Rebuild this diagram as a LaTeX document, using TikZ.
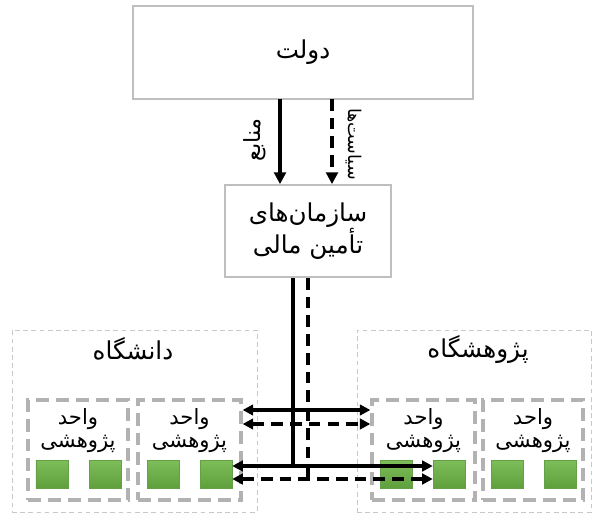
\documentclass[tikz,border=0pt]{standalone}
\usepackage{fontspec}
\newfontfamily\fa[Script=Arabic]{DejaVu Sans}
\TeXXeTstate=1
\definecolor{boxgray}{RGB}{191, 191, 191}
\definecolor{grpgray}{RGB}{200, 200, 200}
\definecolor{unitgray}{RGB}{178, 178, 178}
\definecolor{green1}{RGB}{125, 190, 90}
\definecolor{green2}{RGB}{95, 160, 60}
\definecolor{greenline}{RGB}{100, 160, 70}
\usetikzlibrary{arrows.meta, positioning, calc}

\begin{document}
\begin{tikzpicture}[
  x=0.03cm, y=-0.03cm,
  box/.style={draw=boxgray, line width=1.5pt, fill=white, align=center, font=\fa\fontsize{21}{25}\selectfont, inner sep=0pt},
  group/.style={draw=grpgray, dash pattern=on 4pt off 3pt, line width=0.8pt, inner sep=0pt},
  unit/.style={draw=unitgray, line width=2.8pt, dash pattern=on 11pt off 6pt, minimum width=3cm, minimum height=3cm, inner sep=0pt},
  cell/.style={draw=greenline, line width=0.4pt, top color=green1, bottom color=green2, minimum width=0.96cm, minimum height=0.84cm, inner sep=0pt},
  title/.style={font=\fa\fontsize{21}{25}\selectfont, inner sep=0pt},
  unittxt/.style={font=\fa\fontsize{18}{20}\selectfont, align=center, inner sep=0pt},
  flow/.style={line width=3pt, -{Triangle[length=10pt, width=10pt]}},
  link/.style={line width=2.6pt, {Triangle[length=9pt, width=9pt]}-{Triangle[length=9pt, width=9pt]}},
  dash2/.style={dash pattern=on 10pt off 6pt},
]
  \useasboundingbox (0,0) rectangle (592,514);

  % top: government and funding bodies
  \node[box, minimum width=10.2cm, minimum height=2.79cm] (gov) at (303,52.5) {\beginR دولت\endR};
  \node[box, minimum width=4.98cm, minimum height=2.76cm] (fin) at (308,231) {\beginR سازمان^^^^200cهای\endR\\\beginR تأمین مالی\endR};

  \coordinate (res) at (280,99);
  \coordinate (pol) at (332,99);
  \draw[flow] (res) -- (res |- fin.north);
  \draw[flow, dash2] (pol) -- (pol |- fin.north);
  \node[font=\fa\fontsize{19}{20}\selectfont, rotate=90, inner sep=0pt] (reslbl) at (255,140) {\beginR منابع\endR};
  \node[font=\fa\fontsize{15}{16}\selectfont, rotate=-90, inner sep=0pt] (pollbl) at (354,144) {\beginR سیاست^^^^200cها\endR};

  % groups
  \node[group, minimum width=7.35cm, minimum height=5.46cm] (uni) at (134.5,421) {};
  \node[group, minimum width=7.02cm, minimum height=5.46cm] (inst) at (474,421) {};
  \node[title] (unit) at (133,349) {\beginR دانشگاه\endR};
  \node[title] (instt) at (478,349) {\beginR پژوهشگاه\endR};

  % research units
  \node[unit] (u1) at (78,450) {};
  \node[unit, minimum width=3.09cm] (u2) at (189.5,450) {};
  \node[unit, minimum width=3.09cm] (u3) at (423.5,450) {};
  \node[unit] (u4) at (533,450) {};
  \foreach \u in {u1,u2,u3,u4}
    \node[unittxt] (\u t) at ($(\u.north)+(0,32)$) {\beginR واحد\endR\\\beginR پژوهشی\endR};

  \node[cell] (g1a) at (52,474) {};
  \node[cell] (g1b) at (105,474) {};
  \node[cell] (g2a) at (163.5,474) {};
  \node[cell] (g2b) at (216,474) {};
  \node[cell] (g3a) at (396,474) {};
  \node[cell] (g3b) at (449,474) {};
  \node[cell] (g4a) at (507.5,474) {};
  \node[cell] (g4b) at (560,474) {};

  % links from the funding bodies
  \coordinate (s1) at (0,410);
  \coordinate (s2) at (0,424);
  \coordinate (s3) at (0,466);
  \coordinate (s4) at (0,479);
  \coordinate (vres) at (293,0);
  \coordinate (vpol) at (308,0);
  \draw[line width=3pt] (fin.south -| vres) -- (vres |- s3);
  \draw[line width=3pt, dash2] (fin.south -| vpol) -- (vpol |- s4);
  \draw[link] (u2.east |- s1) -- (u3.west |- s1);
  \draw[link, dash2] (u2.east |- s2) -- (u3.west |- s2);
  \draw[link] (g2b.east |- s3) -- (g3b.west |- s3);
  \draw[link, dash2] (g2b.east |- s4) -- (g3b.west |- s4);
\end{tikzpicture}
\end{document}
